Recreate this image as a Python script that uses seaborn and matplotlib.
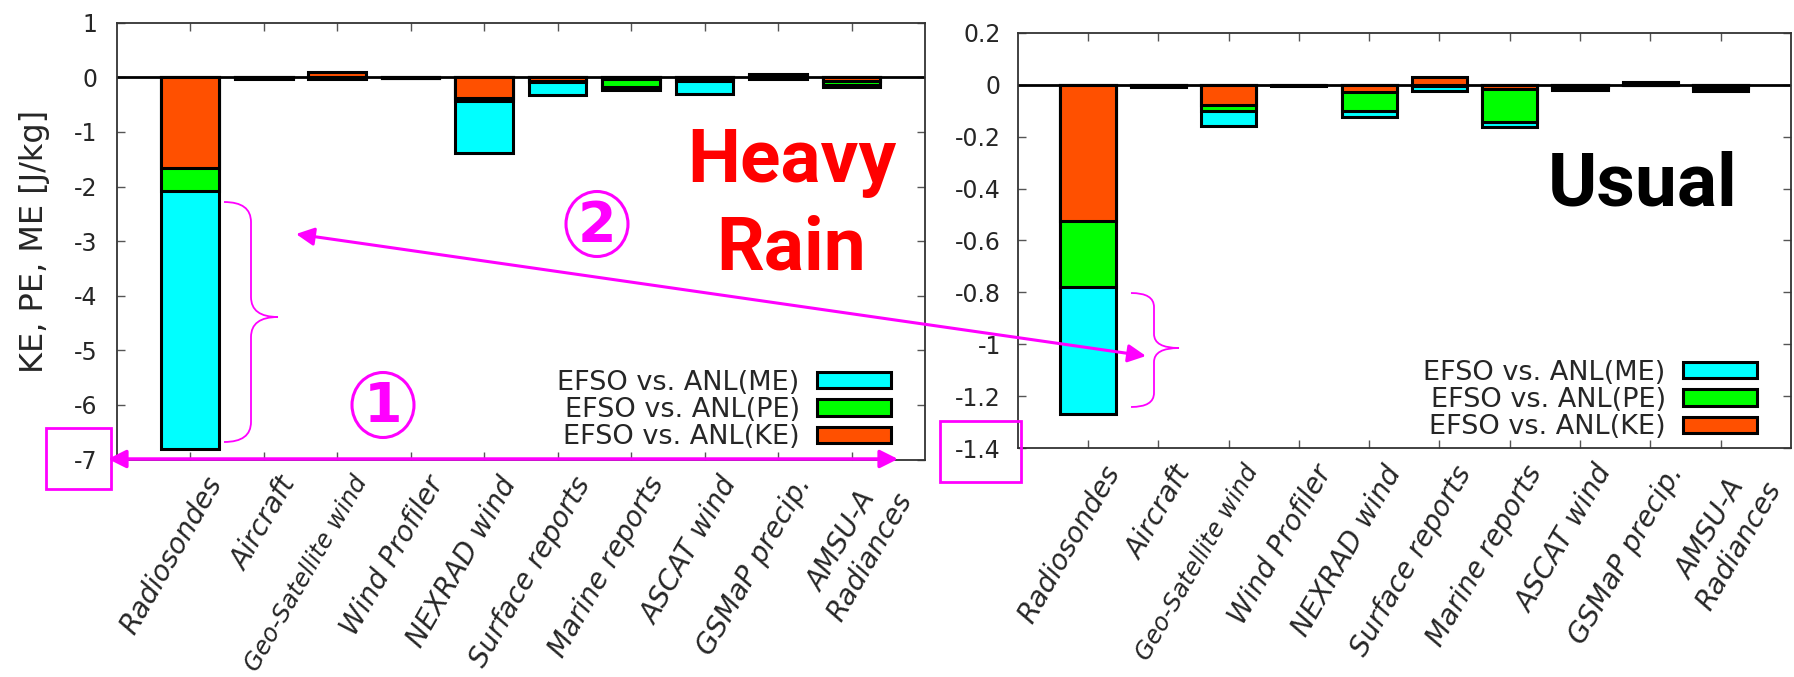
import matplotlib
matplotlib.use("Agg")
import matplotlib.pyplot as plt
import matplotlib.transforms as mtransforms
from matplotlib.patches import Patch, Rectangle, Ellipse, FancyArrowPatch, PathPatch
from matplotlib.path import Path
import seaborn as sns

# ---------------- data ----------------
categories = ["Radiosondes", "Aircraft", "Geo-Satellite wind", "Wind Profiler",
              "NEXRAD wind", "Surface reports", "Marine reports", "ASCAT wind",
              "GSMaP precip.", "AMSU-A\nRadiances"]

heavy_me = [-6.80, -0.03, -0.04, -0.02, -1.385, -0.32, -0.24, -0.30, 0.06, -0.185]
heavy_pe = [-2.075, -0.01, 0.02, -0.01, -0.43, -0.09, -0.18, -0.07, -0.04, -0.15]
heavy_ke = [-1.67, -0.01, 0.10, -0.01, -0.37, -0.07, -0.035, -0.04, 0.045, -0.075]

usual_me = [-1.269, -0.008, -0.161, -0.004, -0.126, -0.023, -0.163, -0.019, 0.011, -0.024]
usual_pe = [-0.779, -0.005, -0.103, -0.002, -0.100, -0.005, -0.142, -0.010, -0.003, -0.012]
usual_ke = [-0.525, -0.004, -0.078, -0.002, -0.028, 0.031, -0.017, -0.008, 0.006, -0.008]

heavy_yticks = [1, 0, -1, -2, -3, -4, -5, -6, -7]
heavy_yticklabels = ["1", "0", "-1", "-2", "-3", "-4", "-5", "-6", "-7"]
usual_yticks = [0.2, 0, -0.2, -0.4, -0.6, -0.8, -1.0, -1.2, -1.4]
usual_yticklabels = ["0.2", "0", "-0.2", "-0.4", "-0.6", "-0.8", "-1", "-1.2", "-1.4"]

series_labels = ["EFSO vs. ANL(ME)", "EFSO vs. ANL(PE)", "EFSO vs. ANL(KE)"]
series_colors = ["#00ffff", "#00ff00", "#ff5000"]

# ---------------- style ----------------
sns.set_style("ticks")
plt.rcParams["font.family"] = ["DejaVu Sans"]
plt.rcParams["axes.unicode_minus"] = False

W, H = 1794, 677
fig = plt.figure(figsize=(W / 100, H / 100), dpi=100)


def F(x, y):
    return (x / W, 1 - y / H)


ax1 = fig.add_axes([116.7 / W, 1 - 459.5 / H, 808.3 / W, 436.8 / H])
ax2 = fig.add_axes([1017.6 / W, 1 - 448.3 / H, 773.4 / W, 415.6 / H])

EDGE_LW = 2.2
BAR_W = 0.785


def draw_panel(ax, me, pe, ke, yticks, yticklabels, ylim, ypad):
    for vals, col in zip([me, pe, ke], series_colors):
        sns.barplot(x=categories, y=vals, order=categories, color=col,
                    saturation=1, width=BAR_W, edgecolor="black",
                    linewidth=EDGE_LW, errorbar=None, ax=ax)
    ax.axhline(0, color="black", lw=2.0, zorder=0.9)
    ax.set_xlim(-1, 10)
    ax.set_ylim(*ylim)
    ax.set_yticks(yticks)
    ax.set_yticklabels(yticklabels, fontsize=17)
    ax.set_xticks(range(len(categories)))
    ax.set_xticklabels(categories, rotation=60, ha="right", va="top",
                       rotation_mode="anchor", fontsize=20, fontstyle="italic",
                       multialignment="center")
    ax.set_xlabel("")
    ax.set_ylabel("")
    ax.tick_params(axis="both", direction="in", length=6, width=1,
                   color="#555555", top=True, right=True)
    ax.tick_params(axis="y", pad=ypad)
    ax.tick_params(axis="x", pad=4)
    for s in ax.spines.values():
        s.set_visible(True)
        s.set_color("#333333")
        s.set_linewidth(1.3)
    off = mtransforms.ScaledTranslation(14 / 100, -7 / 100, fig.dpi_scale_trans)
    for lbl in ax.get_xticklabels():
        lbl.set_transform(lbl.get_transform() + off)
        if lbl.get_text().startswith("Geo"):
            lbl.set_fontsize(17.5)
    handles = [Patch(facecolor=c, edgecolor="black", linewidth=EDGE_LW)
               for c in series_colors]
    return handles


h1 = draw_panel(ax1, heavy_me, heavy_pe, heavy_ke, heavy_yticks,
                heavy_yticklabels, (-7, 1), 14)
h2 = draw_panel(ax2, usual_me, usual_pe, usual_ke, usual_yticks,
                usual_yticklabels, (-1.4, 0.2), 12)

ax1.set_ylabel("KE, PE, ME [J/kg]", fontsize=23)
ax1.yaxis.set_label_coords(-0.0825, 0.5)

for ax, h, (lx, ly) in [(ax1, h1, (891, 410)), (ax2, h2, (1757, 400))]:
    ax.legend(h, series_labels, loc="center right", frameon=False,
              markerfirst=False, fontsize=19.5, handlelength=2.75,
              handleheight=0.55, handletextpad=0.62, labelspacing=0.05,
              borderpad=0, borderaxespad=0,
              bbox_to_anchor=F(lx, ly), bbox_transform=fig.transFigure)

# ---------------- panel titles ----------------
TFONT = ["Roboto", "DejaVu Sans"]
fig.text(*F(792, 181.7), "Heavy", ha="center", va="baseline", fontsize=54,
         fontweight="bold", family=TFONT, color="#ff0000")
fig.text(*F(791, 270), "Rain", ha="center", va="baseline", fontsize=54,
         fontweight="bold", family=TFONT, color="#ff0000")
fig.text(*F(1642.5, 206), "Usual", ha="center", va="baseline", fontsize=54,
         fontweight="bold", family=TFONT, color="black")

# ---------------- magenta annotations ----------------
MAG = "#ff00ff"
tf = fig.transFigure

fig.add_artist(FancyArrowPatch(F(108, 459), F(898, 459), transform=tf,
                               arrowstyle="<|-|>", mutation_scale=27,
                               color=MAG, lw=2.5, shrinkA=0, shrinkB=0))
fig.add_artist(FancyArrowPatch(F(296, 234), F(1146, 356), transform=tf,
                               arrowstyle="<|-|>", mutation_scale=27,
                               color=MAG, lw=2.2, shrinkA=0, shrinkB=0))

fig.add_artist(Rectangle(F(46, 489), 65 / W, 61 / H, transform=tf,
                         fill=False, ec=MAG, lw=2))
fig.add_artist(Rectangle(F(940, 482), 81 / W, 61 / H, transform=tf,
                         fill=False, ec=MAG, lw=2))

for (cx, cy), num in [((383, 405), "1"), ((597, 224), "2")]:
    fig.add_artist(Ellipse(F(cx, cy), 62 / W, 65 / H, transform=tf,
                           fill=False, ec=MAG, lw=2.2))
    fig.text(*F(cx, cy + 2), num, ha="center", va="center", fontsize=40,
             fontweight="bold", family="DejaVu Sans", color=MAG)


def brace(x0, x1, xc, yt, ym, yb, r):
    pts = [(x0, yt), (x1, yt), (x1, yt + r), (x1, ym - r), (x1, ym), (xc, ym),
           (x1, ym), (x1, ym + r), (x1, yb - r), (x1, yb), (x0, yb)]
    codes = [Path.MOVETO, Path.CURVE3, Path.CURVE3, Path.LINETO, Path.CURVE3,
             Path.CURVE3, Path.CURVE3, Path.CURVE3, Path.LINETO, Path.CURVE3,
             Path.CURVE3]
    path = Path([F(px, py) for px, py in pts], codes)
    fig.add_artist(PathPatch(path, transform=tf, fill=False, ec=MAG, lw=1.3))


brace(224, 251, 278, 202, 317, 442, 20)
brace(1131, 1154, 1179, 293, 348, 407, 14)

fig.savefig("out.png", dpi=100)
